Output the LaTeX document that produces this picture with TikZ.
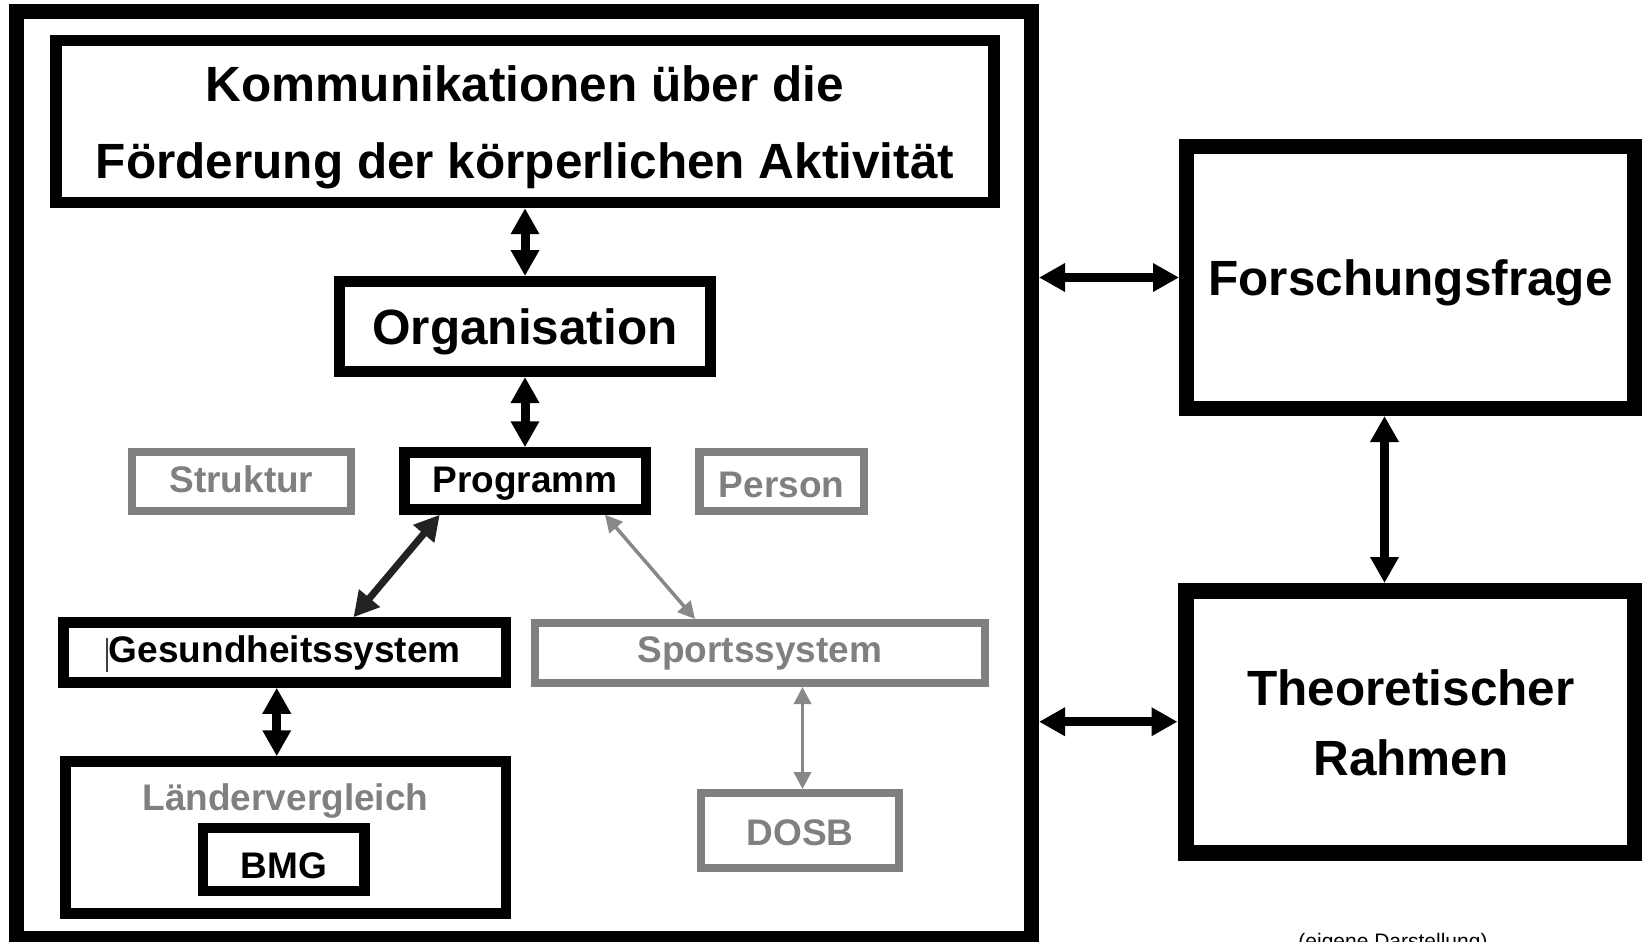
\documentclass[tikz,border=0pt]{standalone}
\usepackage{fontspec}
\setmainfont{Liberation Sans}
\usetikzlibrary{arrows.meta}
\definecolor{boxgray}{RGB}{128,128,128}
\definecolor{arrowdark}{RGB}{34,34,34}
\definecolor{arrowgray}{RGB}{136,136,136}
\begin{document}
\begin{tikzpicture}[x=1pt, y=-1pt,
  bk/.style={draw=black, rectangle, inner sep=0pt, text depth=0pt, font=\bfseries\fontsize{37}{44}\selectfont},
  gr/.style={draw=boxgray, text=boxgray, rectangle, inner sep=0pt, text depth=0pt, font=\bfseries\fontsize{37}{44}\selectfont},
  big/.style={font=\bfseries\fontsize{49.5}{59}\selectfont},
  mid/.style={font=\bfseries\fontsize{37}{44}\selectfont},
  lbl/.style={anchor=base, inner sep=0pt},
  bigarr/.style={draw=black, line width=9pt, {Triangle[width=27pt,length=26pt]}-{Triangle[width=27pt,length=26pt]}},
  darkarr/.style={draw=arrowdark, line width=7pt, {Triangle[width=26pt,length=25pt]}-{Triangle[width=26pt,length=25pt]}},
  grayarr/.style={draw=arrowgray, line width=3.5pt, {Triangle[width=17pt,length=17pt]}-{Triangle[width=17pt,length=17pt]}}
]
\useasboundingbox (0,0) rectangle (1642,942);

% outer frame
\node[bk, line width=15pt, minimum width=1015pt, minimum height=927pt] (frame) at (524,475) {};

% top box
\node[bk, line width=11.5pt, minimum width=938pt, minimum height=161.7pt] (komm) at (525,121.6) {};
\node[lbl, big] (komm1) at (525,102) {Kommunikationen über die};
\node[lbl, big] (komm2) at (525,178) {Förderung der körperlichen Aktivität};

\node[bk, big, line width=11pt, minimum width=371.5pt, minimum height=90pt, text height=35pt] (org) at (525,326.5) {Organisation};
\node[bk, line width=10.5pt, minimum width=241.5pt, minimum height=57pt, text height=22pt] (prog) at (525,481) {Programm};
\node[gr, line width=8.5pt, minimum width=218.8pt, minimum height=58.6pt, text height=21pt] (struk) at (241.4,481.5) {Struktur};
\node[gr, line width=8.5pt, minimum width=164.5pt, minimum height=58.6pt, text height=31pt] (person) at (781.5,481.5) {Person};
\node[bk, line width=10.5pt, minimum width=442.5pt, minimum height=60pt, text height=19pt] (gesund) at (284.75,652.5) {Gesundheitssystem};
\node[gr, line width=8pt, minimum width=449.6pt, minimum height=60pt, text height=18pt] (sport) at (759.8,653) {Sportssystem};
\node[bk, line width=10.5pt, minimum width=440.5pt, minimum height=152pt] (laender) at (285.75,837.5) {};
\node[lbl, mid, text=boxgray] (laenderlbl) at (285.5,810) {Ländervergleich};
\node[bk, line width=10.5pt, minimum width=161.5pt, minimum height=63pt, text height=37pt] (bmg) at (283.75,859.5) {BMG};
\node[gr, line width=8pt, minimum width=198pt, minimum height=75pt, text height=29pt] (dosb) at (800,830.5) {DOSB};

% right boxes
\node[bk, big, line width=15pt, minimum width=448pt, minimum height=262pt, text height=35pt] (fq) at (1410.5,277.5) {Forschungsfrage};
\node[bk, line width=16pt, minimum width=449.5pt, minimum height=261.5pt] (tr) at (1410.25,721.75) {};
\node[lbl, big] (tr1) at (1411,705) {Theoretischer};
\node[lbl, big] (tr2) at (1411,775) {Rahmen};

% cursor mark
\draw[line width=1.2pt, black!75] (107,638) -- (107,672);

% connectors
\draw[bigarr] (komm.south) -- (org.north);
\draw[bigarr] (org.south) -- (prog.north);
\draw[darkarr] ([xshift=-85.25pt]prog.south) -- ([xshift=68.75pt]gesund.north);
\draw[grayarr] ([xshift=80pt]prog.south) -- ([xshift=-64.8pt]sport.north);
\draw[bigarr] ([xshift=-8pt]gesund.south) -- ([xshift=-8pt]gesund.south |- laender.north);
\draw[grayarr] ([xshift=2.5pt]dosb.north |- sport.south) -- ([xshift=2.5pt]dosb.north);
\draw[bigarr] (frame.east |- fq.west) -- (fq.west);
\draw[bigarr] (frame.east |- tr.west) -- (tr.west);
\draw[bigarr] ([xshift=-26pt]fq.south) -- ([xshift=-26pt]fq.south |- tr.north);

% caption (cut off at the lower edge, as in the reference)
\node[lbl, font=\fontsize{21}{25}\selectfont] (caption) at (1393,948) {(eigene Darstellung)};
\end{tikzpicture}
\end{document}
